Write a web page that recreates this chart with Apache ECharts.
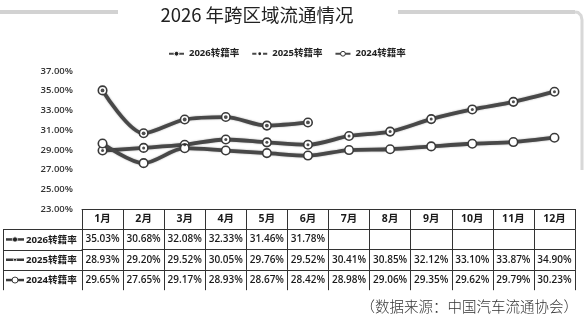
<!DOCTYPE html>
<html>
<head>
<meta charset="utf-8">
<script src="https://cdn.jsdelivr.net/npm/echarts@6/dist/echarts.min.js"></script>
<style>html,body{margin:0;padding:0;background:#fff}#c{width:584px;height:317px}</style>
</head>
<body>
<div id="c"></div>
<script>
var months = ['1月','2月','3月','4月','5月','6月','7月','8月','9月','10月','11月','12月'];
var seriesNames = ['2026转籍率','2025转籍率','2024转籍率'];
var rate2026 = [35.03,30.68,32.08,32.33,31.46,31.78];
var rate2025 = [28.93,29.20,29.52,30.05,29.76,29.52,30.41,30.85,32.12,33.10,33.87,34.90];
var rate2024 = [29.65,27.65,29.17,28.93,28.67,28.42,28.98,29.06,29.35,29.62,29.79,30.23];
var yMin = 23, yMax = 37, yStep = 1;
var titleText = '2026 年跨区域流通情况';
var sourceText = '（数据来源：中国汽车流通协会）';

(function(){
function fmt(arr){ return months.map(function(m,i){ return arr[i]==null ? '' : arr[i].toFixed(2)+'%'; }); }

var FONT = '"Open Sans","Noto Sans CJK SC",sans-serif';
var LINE = '#333';
var gridTop = 71, gridBottomY = 209, rowH = 20.3;

function tableAxis(data, offset, bold){
  return {
    type:'category', gridIndex:0, position:'bottom', offset:offset, data:data,
    boundaryGap:true,
    axisLine:{show:true, lineStyle:{color:LINE, width:1}},
    axisTick:{show:true, interval:0, alignWithLabel:false, length:rowH, lineStyle:{color:LINE, width:1}},
    axisLabel:{show:true, interval:0, margin:rowH/2, verticalAlign:'middle', color:'#1a1a1a',
      fontFamily:FONT, fontSize: bold?10.5:10, fontWeight: bold?'bold':'600'},
    splitLine:{show:false}
  };
}

var lineStyleBase = {color:'#484848', width:3.8, shadowColor:'rgba(0,0,0,0.35)', shadowBlur:2};
function lineSeries(name, data){
  return {
    name:name, type:'line', data:data, smooth:0.3, xAxisIndex:0, yAxisIndex:0,
    symbol:'circle', symbolSize:8.5, showSymbol:true,
    itemStyle:{color:'#fff', borderColor:'#3a3a3a', borderWidth:1.6},
    lineStyle:lineStyleBase, z:3
  };
}
function dotSeries(data, size){
  return {type:'scatter', data:data, symbol:'circle', symbolSize:size, silent:true,
    itemStyle:{color:'#222'}, z:5, xAxisIndex:0, yAxisIndex:0};
}

var graphics = [
  {type:'rect', shape:{x:0,y:10,width:118,height:4}, style:{fill:'#d2d2d2'}},
  {type:'rect', shape:{x:398,y:10,width:177,height:4}, style:{fill:'#d2d2d2'}},
  {type:'polyline', shape:{points:[[575,12],[578,12.5],[581,15.5],[582,20],[582,170]]}, style:{stroke:'#d8d8d8', lineWidth:3, fill:null}},
  {type:'text', style:{text:titleText, x:257, y:15, align:'center', verticalAlign:'middle', fontSize:18.5, fontFamily:'"Noto Sans CJK SC",sans-serif', fill:'#222'}},
  {type:'text', style:{text:sourceText, x:578, y:306, align:'right', verticalAlign:'middle', fontSize:14.5, fontFamily:'"Noto Sans CJK SC",sans-serif', fontWeight:300, fill:'#333'}},
  {type:'line', shape:{x1:3.5,y1:gridBottomY+rowH,x2:3.5,y2:gridBottomY+4*rowH}, style:{stroke:LINE, lineWidth:1}}
];
for (var i=0;i<3;i++){
  var rowTop = gridBottomY + rowH*(i+1);
  var cy = rowTop + rowH/2;
  graphics.push({type:'line', shape:{x1:3,y1:Math.round(rowTop)+0.5,x2:82,y2:Math.round(rowTop)+0.5}, style:{stroke:LINE, lineWidth:1}});
  graphics.push({type:'line', shape:{x1:6,y1:cy,x2:24,y2:cy}, style:{stroke:'#3a3a3a', lineWidth:2.5}});
  if (i===0) graphics.push({type:'circle', shape:{cx:15,cy:cy,r:2.6}, style:{fill:'#222', stroke:'#fff', lineWidth:0.8}});
  if (i===1) graphics.push({type:'circle', shape:{cx:15,cy:cy,r:1.6}, style:{fill:'#222', stroke:'#fff', lineWidth:0.8}});
  if (i===2) graphics.push({type:'circle', shape:{cx:15,cy:cy,r:3}, style:{fill:'#fff', stroke:'#3a3a3a', lineWidth:1}});
  graphics.push({type:'text', style:{text:seriesNames[i], x:26, y:cy+0.5, align:'left', verticalAlign:'middle', fontSize:9.6, fontWeight:'bold', fontFamily:FONT, fill:'#1a1a1a'}});
}

var chart = echarts.init(document.getElementById('c'), null, {renderer:'canvas'});
chart.setOption({
  backgroundColor:'#fff',
  animation:false,
  legend:{
    data:[
      {name:seriesNames[0], itemStyle:{color:'#222', borderColor:'#fff', borderWidth:1}},
      {name:seriesNames[1], itemStyle:{color:'#222', borderColor:'#fff', borderWidth:2}},
      {name:seriesNames[2], itemStyle:{color:'#fff', borderColor:'#333', borderWidth:1}}
    ],
    top:44, left:163, itemWidth:15, itemHeight:6, itemGap:12,
    textStyle:{fontSize:9.5, fontWeight:'bold', fontFamily:FONT, color:'#222'}
  },
  grid:{left:82, right:9, top:gridTop, bottom:317-gridBottomY, containLabel:false},
  yAxis:{
    type:'value', min:yMin, max:yMax, interval:yStep,
    axisLine:{show:false}, axisTick:{show:false}, splitLine:{show:false},
    axisLabel:{margin:9, fontSize:9.5, fontWeight:'600', fontFamily:FONT, color:'#333',
      formatter:function(v){ return (Math.round(v)%2===1) ? v.toFixed(2)+'%' : ''; }}
  },
  xAxis:[
    tableAxis(months, 0, true),
    tableAxis(fmt(rate2026), rowH, false),
    tableAxis(fmt(rate2025), rowH*2, false),
    tableAxis(fmt(rate2024), rowH*3, false)
  ],
  series:[
    lineSeries(seriesNames[0], rate2026),
    lineSeries(seriesNames[1], rate2025),
    lineSeries(seriesNames[2], rate2024),
    dotSeries(rate2026, 3.8),
    dotSeries(rate2025, 3)
  ],
  graphic:graphics
});
})();
</script>
</body>
</html>
